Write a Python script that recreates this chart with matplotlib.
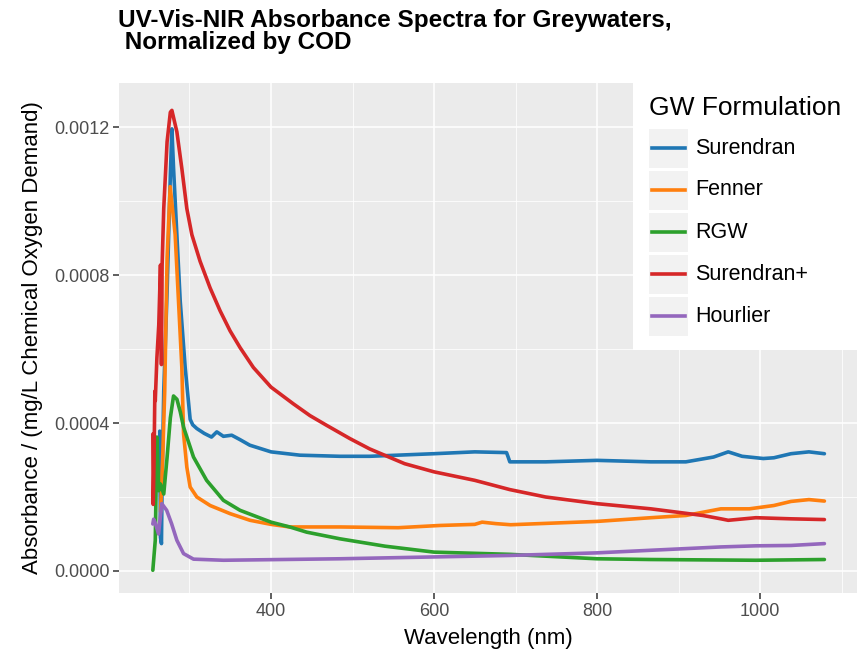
#!/usr/bin/env python3
"""UV-Vis-NIR absorbance spectra of greywaters, normalized by COD (ggplot-style redraw)."""
import matplotlib

matplotlib.use("Agg")
import matplotlib.pyplot as plt
from matplotlib.patches import Rectangle
from matplotlib.lines import Line2D

# values, absorbance in units of 1e-4 per mg/L COD
surendran_nm = [263.5, 264.4, 265.6, 266.4, 268.4, 272.5, 276.5, 278.4, 280.4, 284.5, 288.6,
                294.7, 300.8, 304, 309, 318, 327, 333.5, 341.6, 351.8, 362, 374, 400, 435.5,
                484.5, 521, 600, 650, 689, 691, 693, 737, 800, 866, 909, 943, 961, 978,
                1004, 1017, 1038, 1060, 1079]
surendran_val = [3.78, 0.91, 0.74, 2.44, 4.86, 7.55, 10.7, 11.95, 10.9, 9.09, 7.3,
                 5.5, 4.1, 3.95, 3.85, 3.72, 3.62, 3.76, 3.64, 3.67, 3.55, 3.40, 3.22, 3.13,
                 3.10, 3.10, 3.17, 3.22, 3.20, 3.08, 2.95, 2.95, 2.99, 2.95, 2.95, 3.08, 3.22, 3.10,
                 3.04, 3.06, 3.17, 3.22, 3.17]

fenner_nm = [264.5, 267, 269.6, 272.5, 276.3, 282.4, 286.5, 290.6, 292.7, 296.7, 300.8,
             309, 325.3, 349.8, 374.3, 400, 423, 484.5, 556, 607, 650, 659, 676,
             694, 800, 866, 909, 952, 987, 1017, 1038, 1060, 1079]
fenner_val = [1.6, 3.0, 4.86, 8.45, 10.39, 9.09, 7.3, 5.5, 3.71, 2.81, 2.27,
              2.0, 1.77, 1.55, 1.37, 1.26, 1.19, 1.19, 1.17, 1.23, 1.26, 1.32, 1.28,
              1.25, 1.34, 1.44, 1.50, 1.68, 1.68, 1.77, 1.88, 1.93, 1.89]

rgw_nm = [255, 258, 260, 262.3, 264.4, 268.4, 272.5, 276.5, 280.4, 284.6, 288.7,
          292.7, 304.9, 321, 341.6, 362, 400, 423, 443.7, 484.5, 540, 600, 693,
          800, 866, 995, 1079]
rgw_val = [0.02, 0.83, 3.62, 2.17, 2.35, 2.08, 3.07, 4.14, 4.73, 4.64, 4.3,
           3.89, 3.08, 2.45, 1.91, 1.64, 1.32, 1.19, 1.05, 0.87, 0.67, 0.51, 0.45,
           0.33, 0.31, 0.29, 0.31]

surendran_plus_nm = [255, 255.5, 256.5, 257.5, 258, 260, 262.3, 264.4, 265.6, 266.4, 268.4,
                     272.5, 276.5, 278.4, 284.5, 290.6, 296.7, 302.9, 313, 325.3, 337.6, 349.8,
                     362, 378.4, 400, 427.3, 447.8, 468, 496.7, 521, 564, 600, 650, 693, 737,
                     800, 866, 930, 952, 961, 995, 1038, 1079]
surendran_plus_val = [3.7, 1.8, 3.0, 4.86, 4.6, 5.76, 6.65, 8.27, 5.58, 8.27, 9.8,
                      11.6, 12.4, 12.45, 11.87, 10.88, 9.80, 9.09, 8.37, 7.65, 7.03, 6.49,
                      6.04, 5.50, 4.97, 4.52, 4.20, 3.94, 3.58, 3.30, 2.90, 2.68, 2.45, 2.20, 2.00,
                      1.82, 1.68, 1.50, 1.41, 1.37, 1.44, 1.41, 1.39]

hourlier_nm = [255, 256, 258, 262, 266, 272, 278, 284.5, 292.7, 304.9, 341.6,
               484.5, 600, 693, 800, 866, 952, 995, 1038, 1079]
hourlier_val = [1.27, 1.40, 1.30, 1.0, 1.82, 1.64, 1.28, 0.83, 0.47, 0.32, 0.29,
                0.33, 0.38, 0.42, 0.49, 0.56, 0.65, 0.68, 0.69, 0.74]

series_names = ["Surendran", "Fenner", "RGW", "Surendran+", "Hourlier"]
series_colors = ["#1F77B4", "#FF7F0E", "#2CA02C", "#D62728", "#9467BD"]

W, H = 857, 662


def fx(px):
    return px / W


def fy(py):
    return 1 - py / H


def main():
    plt.rcParams["font.family"] = ["Liberation Sans", "DejaVu Sans"]
    fig = plt.figure(figsize=(W / 100, H / 100), dpi=100)
    ax = fig.add_axes([fx(119), fy(593), fx(857 - 119), (593 - 83) / H])
    ax.set_facecolor("#EBEBEB")
    for s in ax.spines.values():
        s.set_visible(False)

    data = [
        (surendran_nm, surendran_val),
        (fenner_nm, fenner_val),
        (rgw_nm, rgw_val),
        (surendran_plus_nm, surendran_plus_val),
        (hourlier_nm, hourlier_val),
    ]
    for (nm, val), name, col in zip(data, series_names, series_colors):
        ax.plot(nm, [v * 1e-4 for v in val], color=col, lw=2.6, label=name,
                solid_joinstyle="round", solid_capstyle="round")

    ax.set_xlim(213.5, 1119)
    ax.set_ylim(-0.595e-4, 13.19e-4)
    ax.set_xticks([400, 600, 800, 1000])
    ax.set_xticks([300, 500, 700, 900, 1100], minor=True)
    ax.set_yticks([0, 0.0004, 0.0008, 0.0012])
    ax.set_yticks([0.0002, 0.0006, 0.0010], minor=True)
    ax.set_yticklabels(["0.0000", "0.0004", "0.0008", "0.0012"])
    ax.grid(which="major", color="white", lw=1.1)
    ax.grid(which="minor", color="white", lw=0.55)
    ax.set_axisbelow(True)
    ax.tick_params(which="major", length=4, width=1.1, color="#333333",
                   labelcolor="#4D4D4D", labelsize=13, pad=3)
    ax.tick_params(which="minor", length=0)

    ax.set_xlabel("Wavelength (nm)", fontsize=16, labelpad=6)
    ax.set_ylabel("Absorbance / (mg/L Chemical Oxygen Demand)", fontsize=16, labelpad=8)

    fig.text(fx(118), fy(9), "UV-Vis-NIR Absorbance Spectra for Greywaters,\n Normalized by COD",
             fontsize=17.5, fontweight="bold", ha="left", va="top", linespacing=0.95)

    # ggplot-style legend inside the panel, top right
    fig.patches.append(Rectangle((fx(633), fy(350)), fx(857 - 633), (350 - 83) / H,
                                 transform=fig.transFigure, facecolor="white", edgecolor="none",
                                 zorder=5))
    fig.text(fx(649), fy(108), "GW Formulation", fontsize=19, ha="left", va="center", zorder=6)
    for i, (name, col) in enumerate(zip(series_names, series_colors)):
        cy = 148 + i * 42
        fig.patches.append(Rectangle((fx(649), fy(cy + 20)), fx(39), 39 / H,
                                     transform=fig.transFigure, facecolor="#F2F2F2",
                                     edgecolor="none", zorder=6))
        fig.lines.append(Line2D([fx(652), fx(685)], [fy(cy), fy(cy)], transform=fig.transFigure,
                                color=col, lw=2.6, zorder=7))
        fig.text(fx(695), fy(cy), name, fontsize=15.5, ha="left", va="center", zorder=7)

    fig.savefig("out.png", dpi=100)
    plt.close(fig)


if __name__ == "__main__":
    main()
